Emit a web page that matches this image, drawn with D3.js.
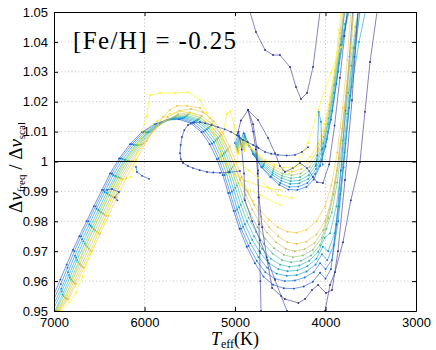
<!DOCTYPE html>
<html>
<head>
<meta charset="utf-8">
<script src="https://cdn.jsdelivr.net/npm/d3@7"></script>
<style>
  body { margin: 0; background: #fff; }
</style>
</head>
<body>
<script>
// ---- tick values ----
var xTicks = [7000, 6000, 5000, 4000, 3000];
var yTicks = [0.95, 0.96, 0.97, 0.98, 0.99, 1.00, 1.01, 1.02, 1.03, 1.04, 1.05];
var yTickLabels = ["0.95", "0.96", "0.97", "0.98", "0.99", "1", "1.01", "1.02", "1.03", "1.04", "1.05"];
var title = "[Fe/H] = -0.25";

// ---- main tracks [Teff, ratio] ----
var track00 = [[4970,1.0095],[4935,1.0137],[4856,1.0172],[4800,1.0100],[4770,1.0040],[4750,0.9960],[4735,0.9880],[4700,0.9780],[4650,0.9680],[4590,0.9577],[4450,0.9540],[4300,0.9527],[4226,0.9540],[4149,0.9570],[4082,0.9587],[3994,0.9560],[3928,0.9570],[3862,0.9700],[3785,0.9938],[3707,1.0205],[3641,1.0500]];
var track01 = [[7000,0.9555],[6930,0.9605],[6860,0.9655],[6790,0.9705],[6720,0.9750],[6640,0.9800],[6560,0.9850],[6470,0.9905],[6380,0.9960],[6280,1.0010],[6160,1.0058],[6030,1.0098],[5890,1.0125],[5750,1.0139],[5620,1.0141],[5490,1.0128],[5370,1.0098],[5280,1.0058],[5200,1.0008],[5135,0.9955],[5075,0.9895],[5015,0.9835],[4950,0.9775],[4870,0.9715],[4780,0.9660],[4685,0.9615],[4580,0.9588],[4460,0.9576],[4350,0.9575],[4240,0.9582],[4140,0.9598],[4060,0.9628],[4000,0.9608],[3940,0.9640],[3880,0.9790],[3830,0.9970],[3780,1.0170],[3735,1.0350],[3700,1.0500]];
var track02 = [[7000,0.9540],[6925,0.9590],[6850,0.9645],[6775,0.9700],[6700,0.9750],[6620,0.9800],[6540,0.9850],[6450,0.9905],[6360,0.9960],[6260,1.0010],[6140,1.0058],[6010,1.0098],[5870,1.0126],[5730,1.0141],[5600,1.0143],[5470,1.0130],[5350,1.0100],[5255,1.0060],[5180,1.0010],[5115,0.9955],[5055,0.9895],[4995,0.9835],[4930,0.9775],[4850,0.9718],[4760,0.9668],[4665,0.9630],[4560,0.9608],[4450,0.9600],[4340,0.9602],[4230,0.9612],[4130,0.9630],[4060,0.9660],[4000,0.9640],[3930,0.9670],[3860,0.9800],[3800,0.9980],[3740,1.0180],[3680,1.0350],[3620,1.0500]];
var track03 = [[7000,0.9525],[6920,0.9575],[6845,0.9630],[6770,0.9685],[6690,0.9740],[6610,0.9790],[6530,0.9842],[6440,0.9898],[6345,0.9955],[6240,1.0008],[6120,1.0056],[5990,1.0097],[5850,1.0126],[5710,1.0142],[5580,1.0145],[5450,1.0133],[5330,1.0104],[5235,1.0065],[5160,1.0015],[5095,0.9960],[5035,0.9900],[4975,0.9840],[4910,0.9782],[4830,0.9727],[4740,0.9680],[4645,0.9645],[4540,0.9625],[4430,0.9618],[4320,0.9620],[4210,0.9632],[4110,0.9655],[4040,0.9690],[3980,0.9670],[3910,0.9720],[3850,0.9850],[3790,1.0030],[3730,1.0220],[3680,1.0380],[3640,1.0500]];
var track04 = [[7000,0.9510],[6915,0.9565],[6835,0.9620],[6755,0.9678],[6675,0.9733],[6595,0.9785],[6510,0.9838],[6420,0.9895],[6325,0.9952],[6220,1.0006],[6100,1.0055],[5970,1.0097],[5830,1.0127],[5690,1.0144],[5560,1.0147],[5430,1.0136],[5310,1.0108],[5215,1.0070],[5140,1.0020],[5075,0.9965],[5015,0.9905],[4955,0.9847],[4890,0.9790],[4810,0.9738],[4720,0.9694],[4625,0.9660],[4520,0.9640],[4420,0.9633],[4310,0.9636],[4200,0.9650],[4100,0.9675],[4030,0.9715],[3970,0.9700],[3900,0.9760],[3840,0.9890],[3780,1.0060],[3710,1.0250],[3630,1.0400],[3560,1.0500]];
var track05 = [[6990,0.9500],[6905,0.9555],[6825,0.9612],[6745,0.9670],[6660,0.9726],[6580,0.9780],[6495,0.9834],[6405,0.9892],[6310,0.9950],[6205,1.0005],[6085,1.0055],[5955,1.0098],[5815,1.0129],[5675,1.0146],[5545,1.0150],[5415,1.0139],[5295,1.0112],[5200,1.0075],[5125,1.0026],[5058,0.9970],[4996,0.9912],[4936,0.9855],[4868,0.9800],[4790,0.9750],[4700,0.9708],[4605,0.9675],[4500,0.9655],[4400,0.9648],[4290,0.9652],[4180,0.9668],[4080,0.9698],[4010,0.9745],[3950,0.9760],[3880,0.9850],[3820,0.9990],[3760,1.0160],[3710,1.0320],[3670,1.0420],[3640,1.0500]];
var track06 = [[6980,0.9500],[6895,0.9550],[6812,0.9605],[6730,0.9663],[6645,0.9720],[6562,0.9774],[6478,0.9830],[6388,0.9888],[6293,0.9947],[6188,1.0003],[6068,1.0055],[5938,1.0099],[5798,1.0131],[5660,1.0149],[5530,1.0153],[5400,1.0142],[5280,1.0116],[5185,1.0080],[5108,1.0031],[5040,0.9976],[4978,0.9920],[4918,0.9865],[4850,0.9812],[4770,0.9765],[4682,0.9725],[4585,0.9692],[4480,0.9670],[4380,0.9663],[4270,0.9668],[4160,0.9686],[4060,0.9720],[3990,0.9775],[3930,0.9830],[3870,0.9930],[3810,1.0070],[3750,1.0230],[3690,1.0380],[3620,1.0500]];
var track07 = [[6970,0.9500],[6880,0.9545],[6798,0.9600],[6715,0.9657],[6630,0.9714],[6545,0.9770],[6460,0.9826],[6370,0.9885],[6275,0.9945],[6170,1.0002],[6050,1.0056],[5920,1.0101],[5780,1.0134],[5645,1.0153],[5515,1.0158],[5385,1.0147],[5265,1.0120],[5168,1.0085],[5092,1.0036],[5025,0.9982],[4962,0.9928],[4900,0.9875],[4830,0.9825],[4752,0.9780],[4665,0.9742],[4568,0.9710],[4460,0.9688],[4360,0.9680],[4250,0.9686],[4140,0.9705],[4040,0.9745],[3970,0.9810],[3910,0.9890],[3850,1.0010],[3790,1.0160],[3730,1.0320],[3670,1.0450],[3640,1.0500]];
var track08 = [[6960,0.9500],[6868,0.9542],[6784,0.9596],[6700,0.9652],[6614,0.9708],[6528,0.9765],[6442,0.9822],[6352,0.9882],[6257,0.9943],[6150,1.0001],[6030,1.0057],[5900,1.0104],[5760,1.0138],[5628,1.0158],[5498,1.0164],[5368,1.0153],[5250,1.0125],[5152,1.0090],[5076,1.0042],[5008,0.9990],[4944,0.9938],[4880,0.9888],[4810,0.9840],[4732,0.9798],[4644,0.9762],[4546,0.9730],[4440,0.9708],[4340,0.9700],[4230,0.9707],[4120,0.9728],[4025,0.9770],[3955,0.9840],[3895,0.9930],[3835,1.0060],[3775,1.0220],[3720,1.0380],[3690,1.0500]];
var track09 = [[6950,0.9500],[6855,0.9540],[6770,0.9592],[6685,0.9648],[6598,0.9702],[6510,0.9760],[6424,0.9818],[6334,0.9879],[6238,0.9941],[6130,1.0001],[6010,1.0060],[5880,1.0110],[5745,1.0148],[5615,1.0170],[5485,1.0176],[5355,1.0165],[5235,1.0135],[5138,1.0098],[5060,1.0050],[4990,0.9998],[4925,0.9948],[4860,0.9900],[4790,0.9855],[4712,0.9815],[4622,0.9780],[4524,0.9750],[4420,0.9730],[4320,0.9724],[4210,0.9732],[4100,0.9756],[4005,0.9800],[3935,0.9870],[3875,0.9970],[3815,1.0110],[3760,1.0270],[3710,1.0420],[3690,1.0500]];
var track10 = [[6940,0.9500],[6840,0.9540],[6755,0.9590],[6668,0.9645],[6580,0.9700],[6490,0.9758],[6400,0.9818],[6305,0.9880],[6205,0.9943],[6095,1.0005],[5975,1.0068],[5850,1.0125],[5796,1.0150],[5720,1.0172],[5641,1.0186],[5530,1.0186],[5387,1.0179],[5276,1.0145],[5166,1.0095],[5080,1.0040],[5010,0.9990],[4945,0.9945],[4880,0.9905],[4805,0.9868],[4720,0.9835],[4625,0.9805],[4525,0.9780],[4420,0.9765],[4320,0.9762],[4210,0.9772],[4100,0.9800],[4005,0.9850],[3935,0.9920],[3870,1.0030],[3810,1.0180],[3760,1.0340],[3720,1.0500]];
var track11 = [[6930,0.9500],[6830,0.9530],[6760,0.9560],[6690,0.9614],[6600,0.9690],[6520,0.9764],[6450,0.9794],[6380,0.9871],[6300,0.9920],[6260,0.9938],[6149,0.9948],[6060,1.0060],[5980,1.0150],[5939,1.0222],[5829,1.0229],[5663,1.0229],[5519,1.0232],[5387,1.0206],[5309,1.0162],[5243,1.0105],[5166,1.0027],[5088,0.9960],[4945,0.9921],[4724,0.9888],[4503,0.9855]];
var track12 = [[6950,0.9510],[6870,0.9550],[6790,0.9610],[6700,0.9680],[6620,0.9740],[6540,0.9800],[6450,0.9860],[6350,0.9920],[6250,0.9980],[6130,1.0040],[6000,1.0095],[5860,1.0135],[5720,1.0160],[5590,1.0168],[5460,1.0160],[5340,1.0135],[5240,1.0095],[5160,1.0045],[5090,0.9990],[5000,0.9955],[4880,0.9935],[4740,0.9920],[4620,0.9910],[4503,0.9905]];

// ---- bump ("cup") tracks ----
var cupA = [[5000,1.0062],[4965,1.0088],[4935,1.0072],[4905,1.0095],[4870,1.0068],[4800,1.0025],[4710,0.9982],[4610,0.9948],[4510,0.9922],[4410,0.9906],[4310,0.9905],[4210,0.9915],[4130,0.9940],[4060,0.9985],[4000,1.0050],[3940,1.0140],[3880,1.0260],[3830,1.0390],[3790,1.0500]];
var cupB = [[4990,1.0058],[4955,1.0085],[4925,1.0065],[4895,1.0092],[4860,1.0062],[4790,1.0022],[4700,0.9980],[4600,0.9950],[4500,0.9928],[4400,0.9915],[4300,0.9916],[4200,0.9928],[4115,0.9958],[4045,1.0005],[3985,1.0075],[3925,1.0170],[3860,1.0300],[3800,1.0420],[3750,1.0500]];
var cupC = [[4985,1.0050],[4950,1.0080],[4920,1.0058],[4890,1.0085],[4850,1.0055],[4780,1.0020],[4690,0.9984],[4590,0.9956],[4490,0.9936],[4390,0.9925],[4290,0.9927],[4190,0.9942],[4105,0.9975],[4035,1.0025],[3975,1.0100],[3915,1.0200],[3850,1.0330],[3790,1.0440],[3740,1.0500]];
var cupD = [[4980,1.0045],[4945,1.0078],[4915,1.0052],[4885,1.0080],[4845,1.0052],[4775,1.0020],[4685,0.9988],[4585,0.9962],[4485,0.9944],[4385,0.9934],[4285,0.9937],[4185,0.9954],[4100,0.9990],[4030,1.0045],[3970,1.0125],[3910,1.0230],[3845,1.0360],[3785,1.0460],[3755,1.0500]];
var cupE = [[4975,1.0040],[4940,1.0075],[4910,1.0048],[4880,1.0075],[4840,1.0050],[4770,1.0022],[4680,0.9992],[4580,0.9968],[4480,0.9952],[4380,0.9944],[4280,0.9948],[4180,0.9968],[4095,1.0005],[4025,1.0062],[3965,1.0145],[3905,1.0255],[3840,1.0385],[3790,1.0500]];
var cupF = [[4970,1.0035],[4935,1.0072],[4905,1.0045],[4875,1.0070],[4835,1.0048],[4765,1.0024],[4675,0.9996],[4575,0.9975],[4475,0.9960],[4375,0.9954],[4275,0.9960],[4175,0.9982],[4090,1.0022],[4020,1.0082],[3960,1.0168],[3900,1.0280],[3835,1.0410],[3800,1.0500]];
var cupG = [[4965,1.0030],[4930,1.0070],[4900,1.0040],[4870,1.0065],[4830,1.0046],[4760,1.0026],[4670,1.0000],[4570,0.9982],[4470,0.9970],[4370,0.9966],[4270,0.9974],[4170,0.9998],[4085,1.0040],[4015,1.0102],[3955,1.0190],[3895,1.0305],[3840,1.0430],[3810,1.0500]];
var cupH = [[4960,1.0025],[4925,1.0068],[4895,1.0035],[4865,1.0060],[4825,1.0044],[4755,1.0028],[4665,1.0004],[4565,0.9990],[4465,0.9980],[4365,0.9978],[4265,0.9988],[4165,1.0015],[4080,1.0060],[4010,1.0125],[3950,1.0215],[3890,1.0330],[3850,1.0440],[3830,1.0500]];

// ---- odd segments ----
var navyLoop = [[4193,1.0048],[4260,1.0032],[4337,1.0022],[4430,1.0020],[4525,1.0022],[4600,1.0026],[4668,1.0032],[4740,1.0045],[4800,1.0055],[4860,1.0065],[4912,1.0072],[4980,1.0088],[5044,1.0099],[5115,1.0108],[5188,1.0115],[5260,1.0122],[5330,1.0128],[5387,1.0132],[5450,1.0130],[5519,1.0122],[5560,1.0105],[5586,1.0082],[5600,1.0055],[5608,1.0028],[5598,1.0008],[5575,0.9995],[5520,0.9985],[5464,0.9978],[5390,0.9971],[5309,0.9965],[5240,0.9963],[5166,0.9962],[5060,0.9964],[4945,0.9968]];
var navyArc = [[4834,1.0500],[4768,1.0433],[4668,1.0373],[4580,1.0356],[4503,1.0356],[4392,1.0316],[4326,1.0249],[4271,1.0209],[4204,1.0229],[4138,1.0316],[4061,1.0500]];
var navyBranch = [[4856,1.0172],[4746,1.0139],[4635,1.0079],[4558,1.0028],[4503,0.9985],[4448,0.9965],[4359,0.9978],[4282,0.9995],[4204,0.9978],[4138,0.9948],[4094,0.9931],[4028,0.9928],[3960,0.9990],[3900,1.0120],[3840,1.0280],[3790,1.0420],[3760,1.0500]];
var navyDrop = [[4856,1.0172],[4800,1.0125],[4760,1.0050],[4745,0.9970],[4740,0.9880],[4735,0.9790],[4728,0.9700],[4720,0.9600],[4712,0.9500]];
var navyDrop2 = [[4960,1.0100],[4925,1.0040],[4900,0.9960],[4890,0.9870],[4810,0.9800],[4724,0.9737],[4640,0.9670],[4558,0.9604],[4490,0.9550],[4425,0.9500]];
var purpleRight = [[4005,0.9500],[3950,0.9587],[3895,0.9630],[3807,0.9730],[3720,0.9870],[3619,0.9998],[3564,1.0166],[3508,1.0333],[3431,1.0500]];
var blueHook1 = [[6094,0.9982],[6083,0.9965],[6028,0.9952],[5950,0.9942]];
var blueHook2 = [[6414,0.9905],[6359,0.9908],[6282,0.9898],[6330,0.9880],[6300,0.9870]];
var cyanSpike = [[4110,0.9985],[4090,1.0020],[4075,1.0166],[4050,1.0133],[4040,1.0040],[4030,0.9990]];
var yellowSpike = [[5160,1.0010],[5130,1.0100],[5090,1.0160],[5050,1.0168],[5010,1.0120],[4985,1.0040],[4967,0.9998],[4850,0.9970],[4746,0.9945],[4640,0.9915],[4525,0.9888],[4370,0.9878]];
var yellowDiag = [[4400,0.9960],[4300,1.0000],[4193,1.0062],[4083,1.0172],[3939,1.0296],[3829,1.0383]];

var series = [track01, track02, track03, track04, track05, track06, track07, track08, track09, track10, track12, track11,
              cupA, cupB, cupC, cupD, cupE, cupF, cupG, cupH,
              track00, navyLoop, navyArc, navyBranch, navyDrop, navyDrop2, purpleRight,
              blueHook1, blueHook2, cyanSpike, yellowSpike, yellowDiag];
var shade = [0.10, 0.19, 0.28, 0.37, 0.46, 0.55, 0.64, 0.73, 0.80, 0.86, 0.95, 1.0,
             0.14, 0.26, 0.36, 0.45, 0.54, 0.66, 0.84, 0.96,
             0.0, 0.06, 0.02, 0.04, 0.03, 0.05, 0.01,
             0.12, 0.08, 0.30, 0.98, 1.0];

// parula-ish colormap
var parulaStops = ["#352a87", "#0f5cdd", "#1481d6", "#06a4ca", "#2eb7a4", "#87bf77", "#d1bb59", "#fec832", "#f9fb0e"];
var cmap = d3.scaleLinear()
  .domain(d3.range(parulaStops.length).map(function(i) { return i / (parulaStops.length - 1); }))
  .range(parulaStops)
  .interpolate(d3.interpolateRgb);

var width = 436, height = 350,
    L = 54, R = 416, T = 12, B = 311;

var x = d3.scaleLinear().domain([7000, 3000]).range([L, R]);
var y = d3.scaleLinear().domain([0.95, 1.05]).range([B, T]);

var svg = d3.select("body").append("svg")
  .attr("width", width)
  .attr("height", height)
  .attr("font-family", "'Liberation Sans', Arial, sans-serif");

svg.append("defs").append("clipPath").attr("id", "plotclip")
  .append("rect").attr("x", L).attr("y", T).attr("width", R - L).attr("height", B - T);

// grid
var grid = svg.append("g");
grid.selectAll(".gx").data(xTicks.slice(1, -1)).enter().append("line")
  .attr("x1", function(d) { return x(d); }).attr("x2", function(d) { return x(d); })
  .attr("y1", T).attr("y2", B)
  .attr("stroke", "#b4b4b4").attr("stroke-width", 0.8).attr("stroke-dasharray", "1,2.5");
grid.selectAll(".gy").data(yTicks.slice(1, -1)).enter().append("line")
  .attr("x1", L).attr("x2", R)
  .attr("y1", function(d) { return y(d); }).attr("y2", function(d) { return y(d); })
  .attr("stroke", "#b4b4b4").attr("stroke-width", 0.8).attr("stroke-dasharray", "1,2.5");

// tracks
var plot = svg.append("g").attr("clip-path", "url(#plotclip)");
var line = d3.line().x(function(d) { return x(d[0]); }).y(function(d) { return y(d[1]); });

series.forEach(function(s, i) {
  var col = cmap(shade[i]);
  var g = plot.append("g");
  g.append("path").datum(s)
    .attr("d", line)
    .attr("fill", "none")
    .attr("stroke", col)
    .attr("stroke-width", 0.7)
    .attr("stroke-opacity", 0.85);
  g.selectAll("circle").data(s).enter().append("circle")
    .attr("cx", function(d) { return x(d[0]); })
    .attr("cy", function(d) { return y(d[1]); })
    .attr("r", 0.95)
    .attr("fill", col);
});

// the 1.0 reference line
svg.append("line")
  .attr("x1", L).attr("x2", R)
  .attr("y1", y(1)).attr("y2", y(1))
  .attr("stroke", "#000").attr("stroke-width", 1.2);

// axes box (ticks inside, on every side)
var axL = d3.axisLeft(y).tickValues(yTicks).tickFormat(function(d, i) { return yTickLabels[i]; }).tickSizeInner(-4).tickSizeOuter(0).tickPadding(6);
var axR = d3.axisRight(y).tickValues(yTicks).tickFormat("").tickSizeInner(-4).tickSizeOuter(0);
var axB = d3.axisBottom(x).tickValues(xTicks).tickFormat(d3.format("d")).tickSizeInner(-4).tickSizeOuter(0).tickPadding(7);
var axT = d3.axisTop(x).tickValues(xTicks).tickFormat("").tickSizeInner(-4).tickSizeOuter(0);

svg.append("g").attr("transform", "translate(" + L + ",0)").call(axL);
svg.append("g").attr("transform", "translate(" + R + ",0)").call(axR);
svg.append("g").attr("transform", "translate(0," + B + ")").call(axB);
svg.append("g").attr("transform", "translate(0," + T + ")").call(axT);
svg.selectAll(".domain").attr("stroke", "#000").attr("stroke-width", 1);
svg.selectAll(".tick line").attr("stroke", "#000");
svg.selectAll(".tick text").attr("font-size", 13).attr("fill", "#000")
  .attr("font-family", "'Liberation Sans', Arial, sans-serif");

// title inside plot
svg.append("text")
  .attr("x", 73).attr("y", 49)
  .attr("font-family", "'Liberation Serif', 'DejaVu Serif', serif")
  .attr("font-size", 25)
  .attr("textLength", 163)
  .attr("lengthAdjust", "spacing")
  .attr("fill", "#000")
  .text(title);

// x label
var xl = svg.append("text")
  .attr("x", (L + R) / 2).attr("y", 345)
  .attr("text-anchor", "middle")
  .attr("font-family", "'Liberation Serif', serif")
  .attr("font-size", 18)
  .attr("fill", "#000");
xl.append("tspan").attr("font-style", "italic").text("T");
xl.append("tspan").attr("font-size", 12).attr("dy", 3).text("eff");
xl.append("tspan").attr("dy", -3).text("(K)");

// y label
var yl = svg.append("text")
  .attr("transform", "translate(22," + ((T + B) / 2 + 6) + ") rotate(-90)")
  .attr("text-anchor", "middle")
  .attr("font-family", "'Liberation Serif', serif")
  .attr("font-size", 19)
  .attr("fill", "#000");
yl.append("tspan").text("Δ");
yl.append("tspan").attr("font-style", "italic").text("ν");
yl.append("tspan").attr("font-size", 11).attr("dy", 3).text("freq");
yl.append("tspan").attr("dy", -3).text(" / Δ");
yl.append("tspan").attr("font-style", "italic").text("ν");
yl.append("tspan").attr("font-size", 11).attr("dy", 3).text("scal");
</script>
</body>
</html>
